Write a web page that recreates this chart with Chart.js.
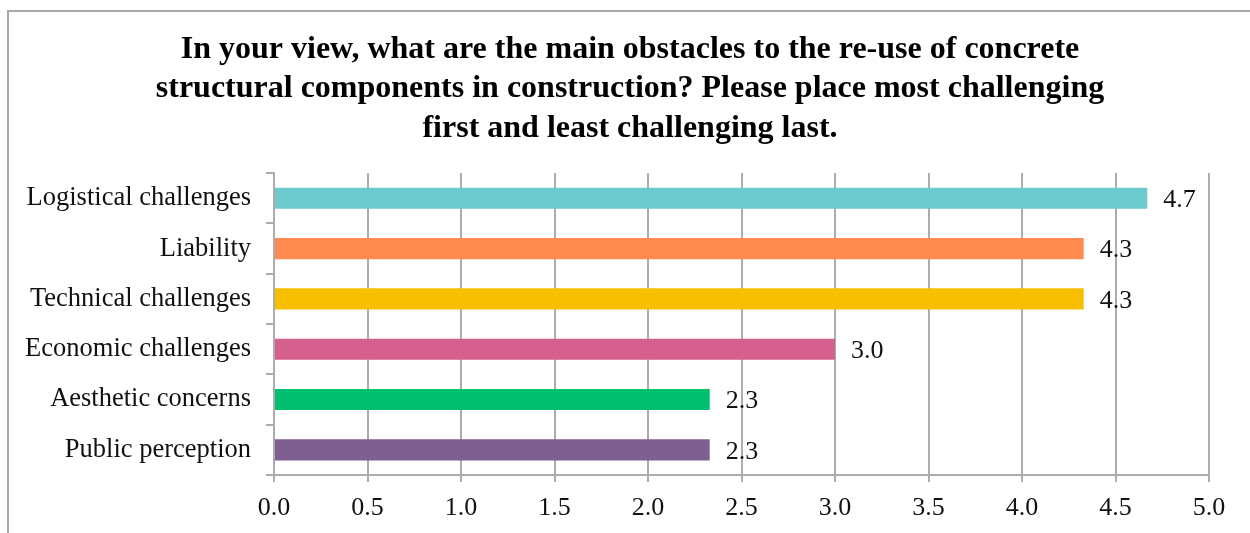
<!DOCTYPE html>
<html>
<head>
<meta charset="utf-8">
<script src="https://cdn.jsdelivr.net/npm/chart.js@4/dist/chart.umd.min.js"></script>
<style>
  html, body { margin: 0; padding: 0; background: #fff; }
  #wrap { width: 1250px; height: 533px; position: relative; }
</style>
</head>
<body>
<div id="wrap"><canvas id="chart"></canvas></div>
<script>
'use strict';

const titleLines = [
  'In your view, what are the main obstacles to the re-use of concrete',
  'structural components in construction? Please place most challenging',
  'first and least challenging last.',
];

const categories = [
  'Logistical challenges',
  'Liability',
  'Technical challenges',
  'Economic challenges',
  'Aesthetic concerns',
  'Public perception',
];

const scores = [4.67, 4.33, 4.33, 3.0, 2.33, 2.33];

const barColors = ['#6cc9cc', '#ff8b50', '#f8be00', '#d5608e', '#00bf6f', '#7f5f91'];

const FONT = 'Liberation Serif, Times New Roman, serif';
const GRID = '#acacac';
const PAD_LEFT = 20;
const PAD_RIGHT = 10;

// frame round the chart, cut off at the right and bottom like the source
const framePlugin = {
  id: 'frame',
  beforeDraw(chart) {
    const ctx = chart.ctx;
    ctx.save();
    ctx.strokeStyle = '#a8a8a8';
    ctx.lineWidth = 2;
    ctx.strokeRect(8, 11, chart.width + 40, chart.height + 40);
    ctx.restore();
  },
};

// value labels just past the end of each bar
const valueLabels = {
  id: 'valueLabels',
  afterDatasetsDraw(chart) {
    const ctx = chart.ctx;
    const meta = chart.getDatasetMeta(0);
    ctx.save();
    ctx.font = '26px ' + FONT;
    ctx.fillStyle = '#111';
    ctx.textAlign = 'left';
    ctx.textBaseline = 'middle';
    meta.data.forEach((bar, i) => {
      ctx.fillText(scores[i].toFixed(1), bar.x + 16, bar.y + 2);
    });
    ctx.restore();
  },
};

new Chart(document.getElementById('chart').getContext('2d'), {
  type: 'bar',
  data: {
    labels: categories,
    datasets: [{
      data: scores,
      backgroundColor: barColors,
      borderWidth: 0,
      barPercentage: 0.42,
      categoryPercentage: 1,
    }],
  },
  options: {
    indexAxis: 'y',
    responsive: true,
    maintainAspectRatio: false,
    animation: false,
    layout: { padding: { left: PAD_LEFT, right: PAD_RIGHT, top: 0, bottom: 0 } },
    plugins: {
      legend: { display: false },
      tooltip: { enabled: false },
      title: {
        display: true,
        text: titleLines,
        color: '#000',
        font: { family: FONT, size: 32, weight: 'bold', lineHeight: 1.23 },
        padding: { top: 30, bottom: 25 },
      },
    },
    scales: {
      x: {
        min: 0,
        max: 5,
        afterFit: scale => { scale.height = 533 - 475; },
        ticks: {
          stepSize: 0.5,
          color: '#111',
          padding: 11,
          font: { family: FONT, size: 26 },
          callback: v => Number(v).toFixed(1),
        },
        grid: { color: GRID, lineWidth: 2, tickLength: 7 },
        border: { color: GRID, width: 2 },
      },
      y: {
        afterFit: scale => { scale.width = 274 - PAD_LEFT; },
        ticks: {
          color: '#111',
          padding: 15,
          font: { family: FONT, size: 26.5 },
        },
        grid: { drawOnChartArea: false, color: GRID, lineWidth: 2, tickLength: 8 },
        border: { color: GRID, width: 2 },
      },
      // empty spacer on the right so the plot ends at 5.0 where the source does
      yRight: {
        type: 'linear',
        position: 'right',
        afterFit: scale => { scale.width = 1250 - PAD_RIGHT - 1209; },
        ticks: { display: false },
        grid: { display: false },
        border: { display: false },
      },
    },
  },
  plugins: [framePlugin, valueLabels],
});
</script>
</body>
</html>
